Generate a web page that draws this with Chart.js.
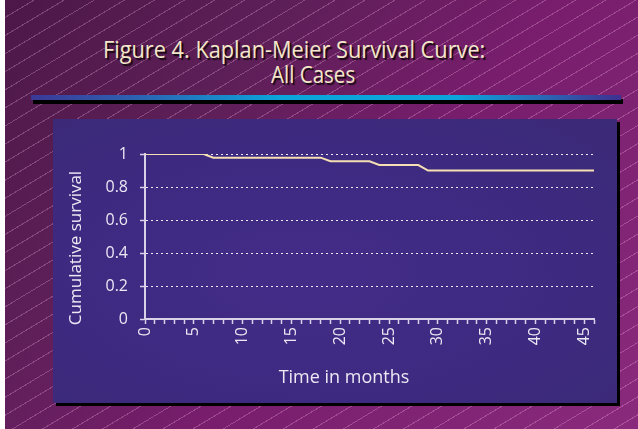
<!DOCTYPE html>
<html>
<head>
<meta charset="utf-8">
<script src="https://cdn.jsdelivr.net/npm/chart.js@4.4.1/dist/chart.umd.min.js"></script>
<style>
  html, body { margin: 0; padding: 0; background: #fff; }
  #page {
    position: relative; width: 638px; height: 429px; overflow: hidden;
  }
  #bg {
    position: absolute; left: 5px; top: 0; right: 0; bottom: 0;
    background:
      repeating-linear-gradient(149deg, rgba(0,0,0,0) 0px, rgba(0,0,0,0) 14.5px, rgba(255,190,235,0.27) 14.5px, rgba(255,190,235,0.27) 15.5px),
      linear-gradient(130deg, #4c1848 0%, #5e1f58 30%, #771d6c 55%, #8a2a7c 100%);
  }
  .title {
    position: absolute; white-space: nowrap;
    font-family: "Open Sans", sans-serif; font-size: 23px; line-height: 23px;
    color: #f4e7c9; text-shadow: 2px 2px 1px #140810;
    transform-origin: 0 0;
  }
  .axtitle {
    position: absolute; width: 200px; height: 20px; line-height: 20px;
    text-align: center; white-space: nowrap;
    font-family: "Open Sans", sans-serif; color: #ece8f4;
  }
  #bar {
    position: absolute; left: 31px; top: 95px; width: 590px; height: 5px;
    background: linear-gradient(90deg, #3b3896 0%, #2c62b2 18%, #0ba4db 42%, #0ba4db 72%, #2c62b2 88%, #3d3090 100%);
    box-shadow: 2px 4px 0 #000;
  }
  #panel {
    position: absolute; left: 53px; top: 119px; width: 564px; height: 284px;
    background: radial-gradient(ellipse at 45% 55%, #432c88 0%, #3d2a80 60%, #3b2a76 100%);
    box-shadow: 3px 3px 0 #000;
  }
  #panel canvas { position: absolute; left: 0; top: 0; }
</style>
</head>
<body>
<div id="page">
  <div id="bg"></div>
  <div class="title" id="t1" style="left:103px; top:38px;">Figure 4. Kaplan-Meier Survival Curve:</div>
  <div class="title" id="t2" style="left:271px; top:63px;">All Cases</div>
  <div id="bar"></div>
  <div id="panel"><canvas id="myChart" width="564" height="284"></canvas></div>
  <div class="axtitle" id="ytitle" style="left:-25px; top:238px; font-size:17px; transform:rotate(-90deg);">Cumulative survival</div>
  <div class="axtitle" id="xtitle" style="left:244px; top:366px; font-size:18px;">Time in months</div>
</div>
<script>
// curve vertices (months, cumulative survival)
const months = [0, 6, 7, 18, 19, 23, 24, 28, 29, 46];
const survival = [1, 1, 0.978, 0.978, 0.956, 0.956, 0.933, 0.933, 0.9, 0.9];
const yTicks = [0, 0.2, 0.4, 0.6, 0.8, 1];

// squeeze the title lines to the reference widths (condensed face)
function fitWidth(id, w) {
  const el = document.getElementById(id);
  el.style.transform = 'scaleX(' + (w / el.scrollWidth) + ')';
}
fitWidth('t1', 382);
fitWidth('t2', 84);

const axisColor = '#d8d1e8';
const textColor = '#ece8f4';
Chart.defaults.font.family = '"Open Sans", sans-serif';

const ctx = document.getElementById('myChart').getContext('2d');
window.myChart = new Chart(ctx, {
  type: 'line',
  data: {
    datasets: [{
      label: 'Cumulative survival',
      data: months.map((m, i) => ({ x: m, y: survival[i] })),
      borderColor: '#f6dfb2',
      borderWidth: 2,
      pointRadius: 0,
      tension: 0,
      fill: false
    }]
  },
  options: {
    responsive: false,
    animation: false,
    devicePixelRatio: 1,
    layout: { padding: { left: 13, right: 23, top: 35, bottom: 0 } },
    plugins: {
      legend: { display: false },
      tooltip: { enabled: false }
    },
    scales: {
      x: {
        type: 'linear',
        min: 0,
        max: 46,
        ticks: {
          stepSize: 1,
          autoSkip: false,
          minRotation: 90,
          maxRotation: 90,
          color: textColor,
          font: { size: 16 },
          padding: 3,
          callback: v => (v % 5 === 0 ? String(v) : '')
        },
        grid: {
          drawOnChartArea: false,
          drawTicks: true,
          tickLength: 5,
          tickColor: axisColor,
          tickWidth: 1.5
        },
        border: { color: axisColor, width: 2 },
        afterFit: s => { s.height = 84; }
      },
      y: {
        min: 0,
        max: 1,
        afterBuildTicks: s => { s.ticks = yTicks.map(v => ({ value: v })); },
        ticks: {
          color: textColor,
          font: { size: 16 },
          padding: 12,
          callback: v => String(+v.toFixed(1))
        },
        grid: {
          color: c => (c.tick && c.tick.value === 0 ? 'rgba(0,0,0,0)' : 'rgba(255,255,255,0.9)'),
          lineWidth: 1,
          tickLength: 5,
          tickColor: axisColor,
          tickWidth: 1.5
        },
        border: { color: axisColor, width: 2, dash: [2, 3] },
        afterFit: s => { s.width = 79; }
      }
    }
  }
});
</script>
</body>
</html>
